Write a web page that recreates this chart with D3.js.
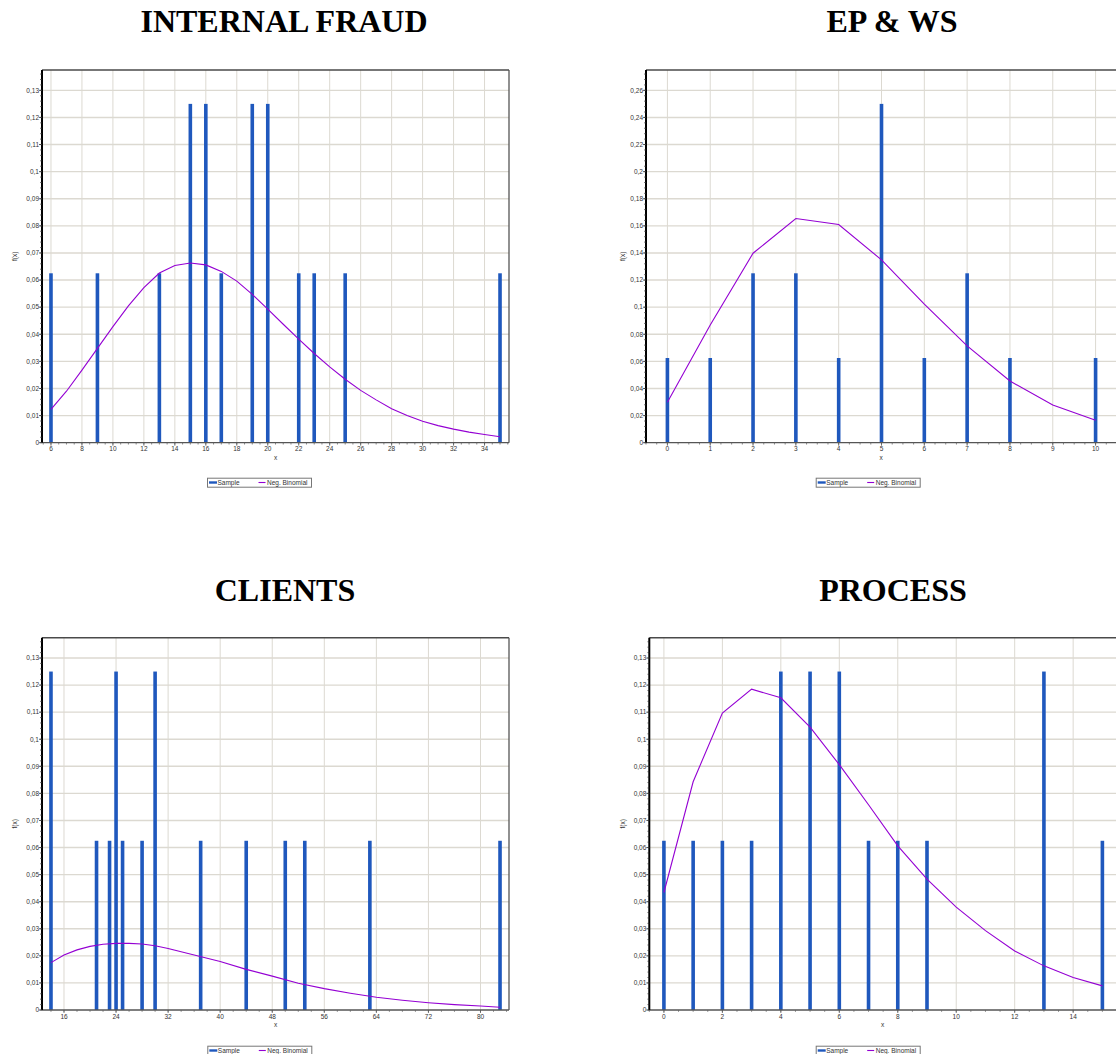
<!DOCTYPE html>
<html>
<head>
<meta charset="utf-8">
<style>
	body { margin: 0; background: #fff; }
	svg { display: block; overflow: hidden; }
	.tick-label, .axis-label, .legend-text { font-family: 'Liberation Sans', Arial, sans-serif; font-size: 6.5px; fill: #333; }
	.title { font-family: 'Liberation Serif', 'Times New Roman', serif; font-weight: bold; font-size: 32px; fill: #000; }
</style>
<script src="https://cdn.jsdelivr.net/npm/d3@7"></script>
</head>
<body>
<svg id="chart" width="1116" height="1054"></svg>
<script>
// INTERNAL FRAUD
var fraudSampleX = [6, 9, 13, 15, 16, 17, 19, 20, 22, 23, 25, 35];
var fraudSampleP = [0.0625, 0.0625, 0.0625, 0.125, 0.125, 0.0625, 0.125, 0.125, 0.0625, 0.0625, 0.0625, 0.0625];
var fraudFitX = [6, 7, 8, 9, 10, 11, 12, 13, 14, 15, 16, 17, 18, 19, 20, 21, 22, 23, 24, 25, 26, 27, 28, 29, 30, 31, 32, 33, 34, 35];
var fraudFitP = [0.0123, 0.019, 0.0268, 0.0348, 0.0428, 0.0505, 0.0572, 0.0626, 0.0654, 0.0663, 0.0656, 0.0632, 0.0596, 0.0547, 0.0493, 0.0437, 0.0382, 0.0329, 0.028, 0.0234, 0.0193, 0.0158, 0.0125, 0.01, 0.0079, 0.0063, 0.005, 0.0039, 0.003, 0.0022];
var fraudXTicks = [6, 8, 10, 12, 14, 16, 18, 20, 22, 24, 26, 28, 30, 32, 34];
var fraudYTicks = [0, 0.01, 0.02, 0.03, 0.04, 0.05, 0.06, 0.07, 0.08, 0.09, 0.1, 0.11, 0.12, 0.13];

// EP & WS
var epwsSampleX = [0, 1, 2, 3, 4, 5, 6, 7, 8, 10];
var epwsSampleP = [0.0625, 0.0625, 0.125, 0.125, 0.0625, 0.25, 0.0625, 0.125, 0.0625, 0.0625];
var epwsFitX = [0, 1, 2, 3, 4, 5, 6, 7, 8, 9, 10];
var epwsFitP = [0.0298, 0.0869, 0.1398, 0.1654, 0.161, 0.1349, 0.1022, 0.0714, 0.0455, 0.0278, 0.0165];
var epwsXTicks = [0, 1, 2, 3, 4, 5, 6, 7, 8, 9, 10];
var epwsYTicks = [0, 0.02, 0.04, 0.06, 0.08, 0.1, 0.12, 0.14, 0.16, 0.18, 0.2, 0.22, 0.24, 0.26];

// CLIENTS
var clientsSampleX = [14, 21, 23, 24, 25, 28, 30, 37, 44, 50, 53, 63, 83];
var clientsSampleP = [0.125, 0.0625, 0.0625, 0.125, 0.0625, 0.0625, 0.125, 0.0625, 0.0625, 0.0625, 0.0625, 0.0625, 0.0625];
var clientsFitX = [14, 16, 18, 20, 22, 24, 26, 28, 30, 32, 36, 40, 44, 48, 52, 56, 60, 64, 68, 72, 76, 80, 83];
var clientsFitP = [0.0175, 0.0203, 0.0222, 0.0235, 0.0243, 0.0246, 0.0246, 0.0244, 0.0237, 0.0227, 0.0203, 0.0179, 0.015, 0.0125, 0.0099, 0.0079, 0.0062, 0.0047, 0.0036, 0.0027, 0.002, 0.0015, 0.001];
var clientsXTicks = [16, 24, 32, 40, 48, 56, 64, 72, 80];
var clientsYTicks = [0, 0.01, 0.02, 0.03, 0.04, 0.05, 0.06, 0.07, 0.08, 0.09, 0.1, 0.11, 0.12, 0.13];

// PROCESS
var processSampleX = [0, 1, 2, 3, 4, 5, 6, 7, 8, 9, 13, 15];
var processSampleP = [0.0625, 0.0625, 0.0625, 0.0625, 0.125, 0.125, 0.125, 0.0625, 0.0625, 0.0625, 0.125, 0.0625];
var processFitX = [0, 1, 2, 3, 4, 5, 6, 7, 8, 9, 10, 11, 12, 13, 14, 15];
var processFitP = [0.0434, 0.0843, 0.1097, 0.1185, 0.1153, 0.1045, 0.0906, 0.0758, 0.0606, 0.0483, 0.038, 0.0293, 0.0218, 0.0163, 0.012, 0.0089];
var processXTicks = [0, 2, 4, 6, 8, 10, 12, 14];
var processYTicks = [0, 0.01, 0.02, 0.03, 0.04, 0.05, 0.06, 0.07, 0.08, 0.09, 0.1, 0.11, 0.12, 0.13];

var legendNames = ['Sample', 'Neg. Binomial'];

initCharts();

function initCharts() {
	var svg = d3.select('#chart');

	var panels = [
		{
			title: 'INTERNAL FRAUD', titleX: 284, titleY: 32,
			sampleX: fraudSampleX, sampleP: fraudSampleP, fitX: fraudFitX, fitP: fraudFitP,
			xTicks: fraudXTicks, yTicks: fraudYTicks, xDomain: [5.42, 35.58],
			left: 42, top: 70, right: 509, bottom: 442.7, yLabelX: 15, legendX: 207, legendY: 477.7
		},
		{
			title: 'EP & WS', titleX: 892, titleY: 32,
			sampleX: epwsSampleX, sampleP: epwsSampleP, fitX: epwsFitX, fitP: epwsFitP,
			xTicks: epwsXTicks, yTicks: epwsYTicks, xDomain: [-0.5, 10.5],
			left: 646, top: 70, right: 1117, bottom: 442.7, yLabelX: 623, legendX: 815.7, legendY: 477.7
		},
		{
			title: 'CLIENTS', titleX: 285, titleY: 601,
			sampleX: clientsSampleX, sampleP: clientsSampleP, fitX: clientsFitX, fitP: clientsFitP,
			xTicks: clientsXTicks, yTicks: clientsYTicks, xDomain: [12.62, 84.38],
			left: 42, top: 637.7, right: 509, bottom: 1010, yLabelX: 15, legendX: 207.3, legendY: 1045.7
		},
		{
			title: 'PROCESS', titleX: 893, titleY: 601,
			sampleX: processSampleX, sampleP: processSampleP, fitX: processFitX, fitP: processFitP,
			xTicks: processXTicks, yTicks: processYTicks, xDomain: [-0.5, 15.5],
			left: 649.3, top: 637.7, right: 1117, bottom: 1010, yLabelX: 623, legendX: 815.7, legendY: 1045.7
		}
	];

	panels.forEach(function(p) {
		drawPanel(svg, p);
	});
}

function drawPanel(svg, p) {
	var yFormat = d3.formatLocale({decimal: ',', thousands: '.', grouping: [3], currency: ['', '']}).format('~g');
	var barColor = '#1f58bd';
	var lineColor = '#9400d3';
	var gridColor = '#dcd9d1';

	var xScale = d3.scaleLinear()
		.domain(p.xDomain)
		.range([p.left, p.right]);

	var yScale = d3.scaleLinear()
		.domain([0, d3.max(p.sampleP) * 1.1])
		.range([p.bottom, p.top]);

	var xStep = p.xTicks[1] - p.xTicks[0];
	var yStep = p.yTicks[1] - p.yTicks[0];
	var xMinor = d3.range(Math.ceil(p.xDomain[0] / (xStep / 4)) * (xStep / 4), p.xDomain[1], xStep / 4);
	var yMinor = d3.range(0, yScale.domain()[1], yStep / 5);

	var g = svg.append('g');

	g.append('text')
		.attr('class', 'title')
		.attr('x', p.titleX)
		.attr('y', p.titleY)
		.attr('text-anchor', 'middle')
		.text(p.title);

	// grid
	g.append('g')
		.selectAll('line')
		.data(p.xTicks)
		.enter()
		.append('line')
		.attr('x1', function(d) { return xScale(d); })
		.attr('x2', function(d) { return xScale(d); })
		.attr('y1', p.top)
		.attr('y2', p.bottom)
		.attr('stroke', gridColor)
		.attr('stroke-width', 1);

	g.append('g')
		.selectAll('line')
		.data(p.yTicks.slice(1))
		.enter()
		.append('line')
		.attr('x1', p.left)
		.attr('x2', p.right)
		.attr('y1', function(d) { return yScale(d); })
		.attr('y2', function(d) { return yScale(d); })
		.attr('stroke', gridColor)
		.attr('stroke-width', 1.4);

	// sample bars
	g.append('g')
		.selectAll('rect')
		.data(p.sampleX)
		.enter()
		.append('rect')
		.attr('x', function(d) { return xScale(d) - 1.8; })
		.attr('y', function(d, i) { return yScale(p.sampleP[i]); })
		.attr('width', 3.6)
		.attr('height', function(d, i) { return p.bottom - yScale(p.sampleP[i]); })
		.attr('fill', barColor);

	// fitted curve
	var line = d3.line()
		.x(function(d) { return xScale(d); })
		.y(function(d, i) { return yScale(p.fitP[i]); });

	g.append('path')
		.datum(p.fitX)
		.attr('d', line)
		.attr('fill', 'none')
		.attr('stroke', lineColor)
		.attr('stroke-width', 1.1);

	// frame
	g.append('line')
		.attr('x1', p.left).attr('x2', p.right)
		.attr('y1', p.top).attr('y2', p.top)
		.attr('stroke', '#4a4a4a').attr('stroke-width', 1.5);

	g.append('line')
		.attr('x1', p.right).attr('x2', p.right)
		.attr('y1', p.top).attr('y2', p.bottom)
		.attr('stroke', '#555').attr('stroke-width', 1.3);

	g.append('line')
		.attr('x1', p.left).attr('x2', p.right)
		.attr('y1', p.bottom).attr('y2', p.bottom)
		.attr('stroke', '#555').attr('stroke-width', 1.3);

	g.append('line')
		.attr('x1', p.left).attr('x2', p.left)
		.attr('y1', p.top).attr('y2', p.bottom)
		.attr('stroke', '#000').attr('stroke-width', 2);

	// x axis ticks
	var xAxis = g.append('g');

	xAxis.selectAll('.minor')
		.data(xMinor)
		.enter()
		.append('line')
		.attr('x1', function(d) { return xScale(d); })
		.attr('x2', function(d) { return xScale(d); })
		.attr('y1', p.bottom)
		.attr('y2', p.bottom + 1.8)
		.attr('stroke', '#666')
		.attr('stroke-width', 0.8);

	xAxis.selectAll('.major')
		.data(p.xTicks)
		.enter()
		.append('line')
		.attr('x1', function(d) { return xScale(d); })
		.attr('x2', function(d) { return xScale(d); })
		.attr('y1', p.bottom)
		.attr('y2', p.bottom + 3)
		.attr('stroke', '#555')
		.attr('stroke-width', 0.8);

	xAxis.selectAll('text')
		.data(p.xTicks)
		.enter()
		.append('text')
		.attr('class', 'tick-label')
		.attr('x', function(d) { return xScale(d); })
		.attr('y', p.bottom + 8.5)
		.attr('text-anchor', 'middle')
		.text(function(d) { return d; });

	g.append('text')
		.attr('class', 'axis-label')
		.attr('x', (p.left + Math.min(p.right, 1116)) / 2 + (p.right > 1116 ? 0 : 0))
		.attr('y', p.bottom + 17)
		.attr('text-anchor', 'middle')
		.text('x');

	// y axis ticks
	var yAxis = g.append('g');

	yAxis.selectAll('.minor')
		.data(yMinor)
		.enter()
		.append('line')
		.attr('x1', p.left - 1.8)
		.attr('x2', p.left)
		.attr('y1', function(d) { return yScale(d); })
		.attr('y2', function(d) { return yScale(d); })
		.attr('stroke', '#333')
		.attr('stroke-width', 0.8);

	yAxis.selectAll('.major')
		.data(p.yTicks)
		.enter()
		.append('line')
		.attr('x1', p.left - 3)
		.attr('x2', p.left)
		.attr('y1', function(d) { return yScale(d); })
		.attr('y2', function(d) { return yScale(d); })
		.attr('stroke', '#333')
		.attr('stroke-width', 0.8);

	yAxis.selectAll('text')
		.data(p.yTicks)
		.enter()
		.append('text')
		.attr('class', 'tick-label')
		.attr('x', p.left - 3)
		.attr('y', function(d) { return yScale(d) + 2.3; })
		.attr('text-anchor', 'end')
		.text(function(d) { return yFormat(d); });

	g.append('text')
		.attr('class', 'axis-label')
		.attr('transform', 'translate(' + (p.yLabelX + 2) + ',' + ((p.top + p.bottom) / 2) + ') rotate(-90)')
		.attr('text-anchor', 'middle')
		.text('f(x)');

	// legend
	var legend = g.append('g')
		.attr('transform', 'translate(' + p.legendX + ',' + p.legendY + ')');

	legend.append('rect')
		.attr('x', 0.5).attr('y', 0.5)
		.attr('width', 104).attr('height', 9)
		.attr('fill', '#fff')
		.attr('stroke', '#777')
		.attr('stroke-width', 1);

	legend.append('line')
		.attr('x1', 2).attr('x2', 10)
		.attr('y1', 4.8).attr('y2', 4.8)
		.attr('stroke', barColor).attr('stroke-width', 2.4);

	legend.append('text')
		.attr('class', 'legend-text')
		.attr('x', 10.5).attr('y', 7)
		.text(legendNames[0]);

	legend.append('line')
		.attr('x1', 51.5).attr('x2', 58.5)
		.attr('y1', 4.8).attr('y2', 4.8)
		.attr('stroke', lineColor).attr('stroke-width', 1.1);

	legend.append('text')
		.attr('class', 'legend-text')
		.attr('x', 60).attr('y', 7)
		.text(legendNames[1]);
}
</script>
</body>
</html>
